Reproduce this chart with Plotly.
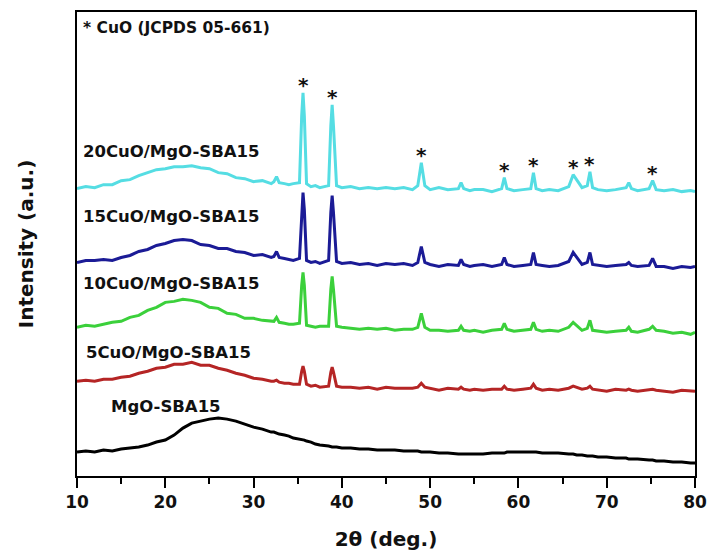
import plotly.graph_objects as go

# 2-theta sampling positions (deg.)
two_theta = [
    10, 11, 12, 13, 14, 15, 16, 17, 18, 19, 20, 21, 22, 23, 24, 25, 26, 27, 28, 29, 30, 31, 32,
    32.3, 32.6, 32.9, 33.5, 34, 34.5, 35.2, 35.45, 35.6, 35.75, 36.0, 36.5, 37, 37.5,
    38.5, 38.75, 38.9, 39.05, 39.4, 40, 41, 42, 43, 44, 45, 46, 47, 48,
    48.6, 49.0, 49.4, 50, 51, 52, 53.2, 53.5, 53.8, 54.5, 55, 56, 57,
    58.1, 58.4, 58.7, 59.5, 60.5, 61.4, 61.7, 62.0, 62.7, 63.5, 64.5,
    65.7, 66.2, 66.6, 67.2, 67.8, 68.1, 68.4, 69, 70, 71, 72.2, 72.5, 72.8, 73.5, 74.8, 75.2, 75.6, 76.5, 77.5, 78.5, 79.5, 80,
]

# Intensities (a.u., stacked as drawn)
cuo20 = [
    288, 290, 289, 292, 292, 296, 297, 301, 304, 307, 308, 310, 310, 311, 309, 308, 304, 303, 299, 298, 295, 296, 293,
    295, 300, 294, 293, 292, 293, 294, 361, 384, 361, 293, 290, 291, 289,
    291, 351, 372, 351, 291, 289, 290, 288, 289, 288, 289, 288, 289, 287,
    291, 314, 291, 287, 289, 287, 288, 294, 288, 286, 287, 287, 285,
    288, 299, 288, 286, 287, 288, 304, 288, 286, 287, 286,
    290, 302, 297, 289, 291, 305, 289, 287, 286, 287, 289, 294, 288, 286, 288, 296, 287, 286, 287, 285, 286, 285,
]
cuo15 = [
    214, 216, 216, 217, 216, 219, 221, 225, 227, 231, 233, 236, 237, 236, 232, 231, 228, 228, 225, 224, 221, 222, 219,
    220, 225, 219, 218, 217, 216, 218, 267, 284, 267, 216, 214, 215, 213,
    216, 264, 281, 264, 215, 213, 214, 212, 213, 211, 213, 212, 213, 211,
    214, 230, 214, 212, 210, 212, 211, 217, 212, 210, 211, 212, 210,
    212, 219, 212, 210, 211, 212, 224, 212, 211, 210, 211,
    215, 224, 219, 212, 214, 224, 212, 211, 210, 211, 212, 214, 211, 210, 211, 218, 210, 210, 208, 210, 209, 210,
]
cuo10 = [
    149, 151, 150, 152, 154, 155, 159, 161, 166, 169, 174, 175, 177, 176, 174, 169, 168, 163, 162, 158, 158, 156, 155,
    155, 159, 154, 153, 152, 152, 153, 191, 204, 191, 151, 150, 149, 150,
    150, 187, 200, 187, 150, 149, 148, 147, 148, 147, 148, 146, 147, 147,
    149, 163, 149, 146, 146, 145, 146, 150, 146, 145, 146, 144, 146,
    147, 153, 147, 145, 146, 147, 154, 147, 145, 146, 145,
    149, 154, 151, 146, 148, 156, 146, 145, 144, 145, 146, 149, 145, 144, 147, 150, 146, 145, 143, 144, 142, 144,
]
cuo5 = [
    95, 96, 95, 97, 97, 99, 100, 103, 105, 108, 109, 112, 112, 114, 111, 111, 108, 106, 103, 101, 98, 97, 95,
    95, 96, 94, 93, 93, 92, 92, 105, 110, 105, 92, 90, 91, 89,
    90, 104, 109, 104, 90, 89, 89, 88, 89, 87, 89, 88, 88, 88,
    89, 93, 89, 88, 86, 88, 87, 89, 87, 86, 87, 86, 87,
    87, 90, 87, 86, 87, 88, 92, 88, 86, 87, 86,
    88, 90, 89, 87, 88, 90, 87, 86, 85, 87, 86, 87, 86, 85, 86, 87, 86, 85, 84, 86, 85, 85,
]
mgo = [
    24, 25, 24, 26, 25, 27, 28, 29, 31, 34, 36, 41, 48, 53, 55, 57, 58, 57, 55, 52, 49, 47, 44,
    44, 43, 42, 41, 40, 38, 37, 36, 36, 36, 35, 34, 32, 31,
    30, 29, 29, 29, 29, 28, 28, 27, 27, 26, 26, 26, 25, 25,
    25, 24, 24, 24, 23, 23, 22, 22, 22, 22, 22, 22, 23,
    23, 23, 24, 24, 24, 24, 24, 24, 23, 23, 23,
    22, 22, 21, 21, 20, 20, 20, 19, 19, 18, 18, 17, 17, 17, 16, 16, 15, 15, 14, 14, 13, 13,
]

series_names = ["MgO-SBA15", "5CuO/MgO-SBA15", "10CuO/MgO-SBA15", "15CuO/MgO-SBA15", "20CuO/MgO-SBA15"]
series_values = [mgo, cuo5, cuo10, cuo15, cuo20]
series_colors = ["#000000", "#B52525", "#3BD03B", "#1B1B96", "#55DDE3"]

# label anchor (2theta, intensity)
label_x = [13.6, 10.8, 10.5, 10.5, 10.5]
label_y = [70, 124, 193, 260, 325]

# CuO reflections marked with *
cuo_peaks = [35.6, 38.9, 49.0, 58.4, 61.7, 66.2, 68.1, 75.2]

x_ticks = [10, 20, 30, 40, 50, 60, 70, 80]

FONT = "DejaVu Sans"

fig = go.Figure()
for name, vals, col in zip(series_names, series_values, series_colors):
    fig.add_trace(go.Scatter(x=two_theta, y=vals, mode="lines", name=name,
                             line=dict(color=col, width=3), showlegend=False))

annotations = []
for name, lx, ly in zip(series_names, label_x, label_y):
    annotations.append(dict(x=lx, y=ly, xref="x", yref="y", text="<b>%s</b>" % name,
                            showarrow=False, xanchor="left", yanchor="middle",
                            font=dict(family=FONT, size=16.5, color="#111111")))
for p in cuo_peaks:
    yv = cuo20[two_theta.index(p)]
    annotations.append(dict(x=p, y=yv, xref="x", yref="y", text="<b>*</b>",
                            showarrow=False, xanchor="center", yanchor="middle", yshift=8,
                            font=dict(family=FONT, size=20, color="#111111")))
annotations.append(dict(x=10.45, y=449, xref="x", yref="y", text="<b>* CuO (JCPDS 05-661)</b>",
                        showarrow=False, xanchor="left", yanchor="middle",
                        font=dict(family=FONT, size=15.5, color="#111111")))

fig.update_layout(
    width=717, height=557, autosize=False,
    margin=dict(l=77, r=10, t=12, b=80),
    paper_bgcolor="white", plot_bgcolor="white",
    annotations=annotations,
    font=dict(family=FONT, color="#111111"),
)
fig.update_xaxes(
    range=[10, 80], tickvals=x_ticks, ticktext=["<b>%d</b>" % t for t in x_ticks],
    showline=True, linecolor="black", linewidth=2, mirror=True,
    ticks="outside", ticklen=10, tickwidth=2, tickcolor="black",
    minor=dict(dtick=5, tick0=10, ticks="outside", ticklen=6, tickwidth=2, tickcolor="black"),
    tickfont=dict(family=FONT, size=17, color="#111111"),
    ticklabeloverflow="allow",
    showgrid=False, zeroline=False,
    title=dict(text="<b>2θ (deg.)</b>", font=dict(family=FONT, size=20, color="#111111"), standoff=21),
)
fig.update_yaxes(
    range=[0, 465], showticklabels=False, ticks="",
    showline=True, linecolor="black", linewidth=2, mirror=True,
    showgrid=False, zeroline=False,
    title=dict(text="<b>Intensity (a.u.)</b>", font=dict(family=FONT, size=20, color="#111111"), standoff=36),
)

fig.write_html(
    "out.html",
    config={"displayModeBar": False, "responsive": False},
    post_script="document.body.style.margin='0';document.body.style.overflow='hidden';",
)
